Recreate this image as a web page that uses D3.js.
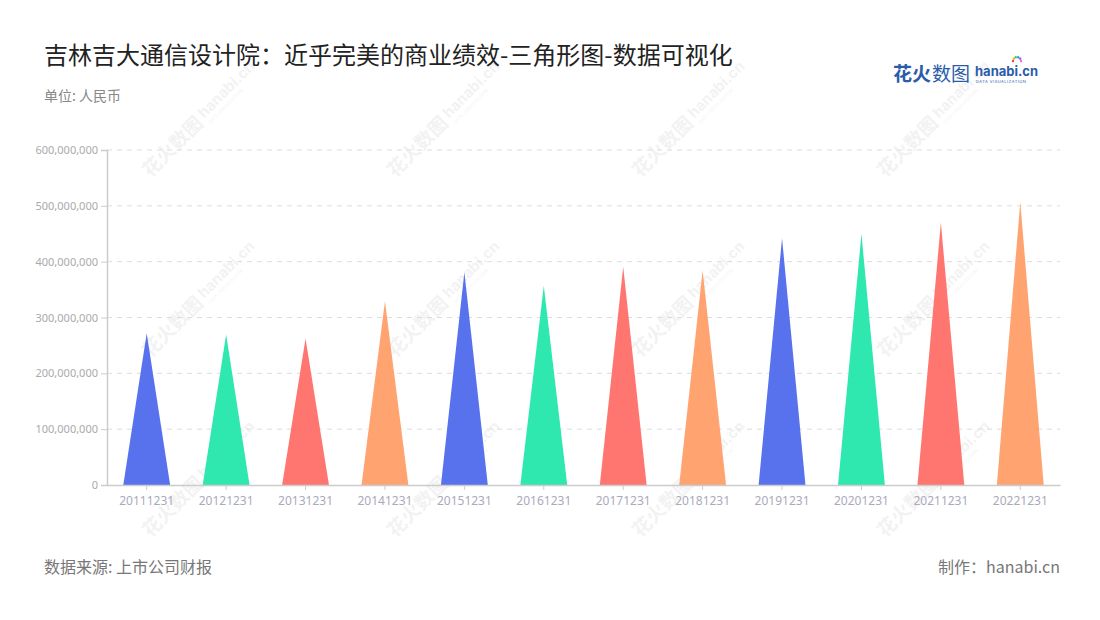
<!DOCTYPE html>
<html>
<head>
<meta charset="utf-8">
<script src="https://cdn.jsdelivr.net/npm/d3@7"></script>
<style>
  body { margin: 0; background: #fff; }
  svg { font-family: "Noto Sans CJK SC", "Noto Sans", sans-serif; }
</style>
</head>
<body>
<script>
const dates = ["20111231", "20121231", "20131231", "20141231", "20151231", "20161231",
  "20171231", "20181231", "20191231", "20201231", "20211231", "20221231"];
const revenue = [272000000, 269500000, 262500000, 329000000, 381000000, 357000000,
  391000000, 384000000, 442000000, 450000000, 470000000, 507000000];
const palette = ["#5872ee", "#2ee8b0", "#ff7670", "#ffa470"];
const yTicks = [0, 100000000, 200000000, 300000000, 400000000, 500000000, 600000000];

const w = 1100, h = 620;
const plotLeft = 107, plotRight = 1060, plotTop = 150, plotBottom = 485;

const svg = d3.select('body').append('svg')
  .attr('width', w)
  .attr('height', h);

// watermarks
const wmCols = [185, 430, 675, 920], wmRows = [135, 315, 495];
wmRows.forEach(function (wy) {
  wmCols.forEach(function (wx) {
    const g = svg.append('g')
      .attr('transform', 'translate(' + wx + ',' + wy + ') rotate(-45)')
      .attr('opacity', 0.06);
    g.append('text').attr('x', -55).attr('y', 6)
      .attr('font-size', 19).attr('font-weight', 'bold').attr('fill', '#333')
      .text('花火数图');
    g.append('text').attr('x', 25).attr('y', 2)
      .attr('font-size', 15).attr('font-weight', 'bold').attr('fill', '#333')
      .attr('font-family', 'Inter, sans-serif')
      .text('hanabi.cn');
    g.append('text').attr('x', 26).attr('y', 10)
      .attr('font-size', 4.5).attr('fill', '#333')
      .attr('font-family', 'Inter, sans-serif')
      .text('DATA VISUALIZATION');
  });
});

// title
svg.append('text').attr('x', 44).attr('y', 64)
  .attr('font-size', 24).attr('fill', '#222')
  .text('吉林吉大通信设计院：近乎完美的商业绩效-三角形图-数据可视化');
svg.append('text').attr('x', 44).attr('y', 101)
  .attr('font-size', 14).attr('fill', '#888')
  .text('单位: 人民币');

// logo
const logo = svg.append('g').attr('transform', 'translate(893,81)');
logo.append('text').attr('x', 0).attr('y', 0)
  .attr('font-size', 19).attr('font-weight', 'bold').attr('fill', '#2a5caa')
  .text('花火');
logo.append('text').attr('x', 39).attr('y', 0)
  .attr('font-size', 19).attr('fill', '#2a5caa')
  .text('数图');
logo.append('text').attr('x', 82).attr('y', -5)
  .attr('font-size', 13).attr('font-weight', 'bold').attr('fill', '#2a5caa')
  .attr('font-family', 'Inter, sans-serif')
  .text('hanabi.cn');
logo.append('text').attr('x', 83).attr('y', 2)
  .attr('font-size', 4).attr('fill', '#2a5caa').attr('letter-spacing', 0.5)
  .attr('font-family', 'Inter, sans-serif')
  .text('DATA VISUALIZATION');
const burst = ["#f44", "#fa0", "#4c4", "#29f", "#a4f", "#f6c"];
burst.forEach(function (c, i) {
  const a = -Math.PI + i * Math.PI / 5;
  logo.append('circle')
    .attr('cx', 124 + Math.cos(a) * 4).attr('cy', -20 + Math.sin(a) * 4)
    .attr('r', 1.2).attr('fill', c);
});

// scales
const x = d3.scaleBand().domain(dates).range([plotLeft, plotRight]);
const y = d3.scaleLinear().domain([0, 600000000]).range([plotBottom, plotTop]);

// grid
svg.append('g').selectAll('line')
  .data(yTicks.filter(function (d) { return d > 0; }))
  .join('line')
  .attr('x1', plotLeft).attr('x2', plotRight)
  .attr('y1', function (d) { return y(d); }).attr('y2', function (d) { return y(d); })
  .attr('stroke', '#ddd').attr('stroke-dasharray', '5,5');

// y axis
const yAxis = svg.append('g')
  .attr('transform', 'translate(' + plotLeft + ',0)')
  .call(d3.axisLeft(y).tickValues(yTicks).tickSize(6).tickPadding(3)
    .tickFormat(d3.format(',')));
yAxis.select('.domain').attr('stroke', '#ccc').attr('stroke-width', 1.5);
yAxis.selectAll('.tick line').attr('stroke', '#ccc');
yAxis.selectAll('.tick text').attr('fill', '#aaa').attr('font-size', 11)
  .attr('font-family', '"Noto Sans", sans-serif');

// triangles
const triW = x.bandwidth() * 0.59;
svg.append('g').selectAll('path')
  .data(revenue)
  .join('path')
  .attr('d', function (d, i) {
    const cx = x(dates[i]) + x.bandwidth() / 2;
    return 'M' + (cx - triW / 2) + ',' + y(0) + 'L' + cx + ',' + y(d) + 'L' + (cx + triW / 2) + ',' + y(0) + 'Z';
  })
  .attr('fill', function (d, i) { return palette[i % palette.length]; });

// x axis
const xAxis = svg.append('g')
  .attr('transform', 'translate(0,' + plotBottom + ')')
  .call(d3.axisBottom(x).tickSize(5).tickPadding(6).tickSizeOuter(0));
xAxis.select('.domain').attr('stroke', '#ccc').attr('stroke-width', 1.5);
xAxis.selectAll('.tick line').attr('stroke', '#ccc');
xAxis.selectAll('.tick text').attr('fill', '#aab').attr('font-size', 12)
  .attr('font-family', '"Noto Sans", sans-serif');

// footer
svg.append('text').attr('x', 44).attr('y', 573)
  .attr('font-size', 16).attr('fill', '#777')
  .text('数据来源: 上市公司财报');
svg.append('text').attr('x', 1060).attr('y', 573)
  .attr('text-anchor', 'end')
  .attr('font-size', 16).attr('fill', '#777')
  .text('制作：hanabi.cn');
</script>
</body>
</html>
